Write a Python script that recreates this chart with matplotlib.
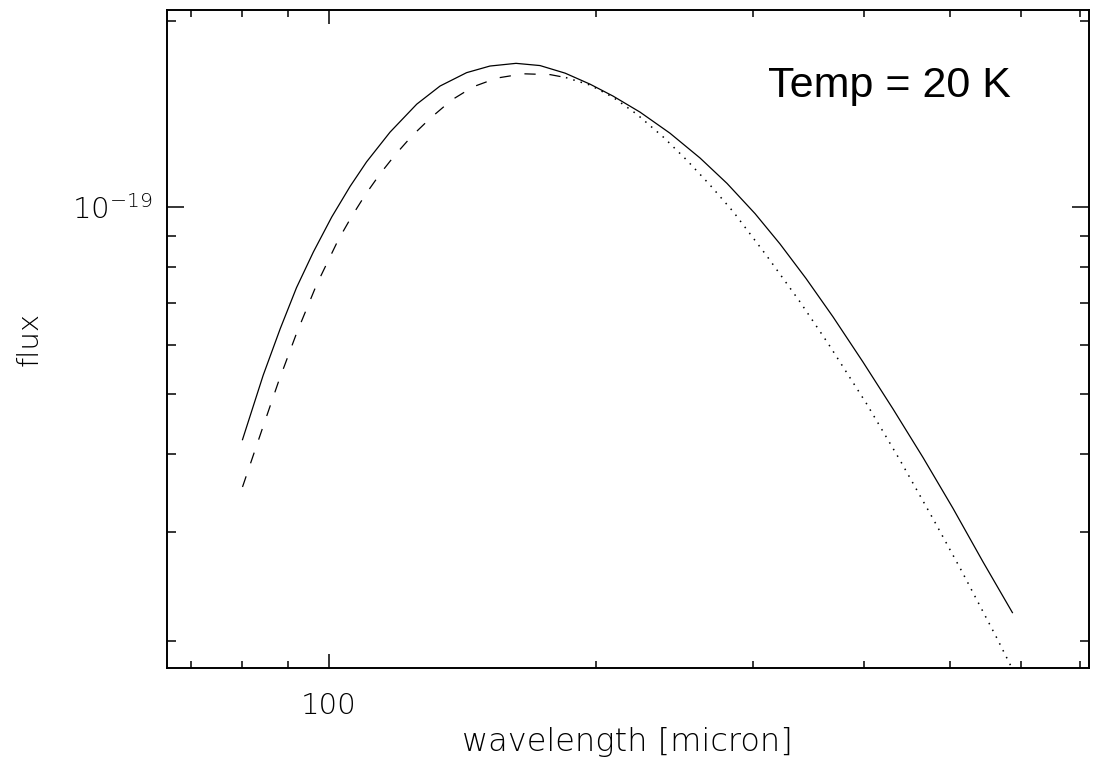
import matplotlib
matplotlib.use('Agg')
import matplotlib.pyplot as plt
from matplotlib.ticker import FixedLocator, FuncFormatter, NullFormatter

plt.rcParams['mathtext.fontset'] = 'custom'
plt.rcParams['mathtext.rm'] = 'DejaVu Sans:light'
plt.rcParams['mathtext.default'] = 'rm'

# ---- data ----
wave_solid = [80.0, 84.4, 88.2, 92.0, 96.1, 100.8, 105.7, 110.3, 117.2, 125.6,
              133.4, 142.9, 151.8, 162.4, 172.8, 184.4, 196.7, 208.7, 223.9, 241.9,
              261.5, 280.4, 301.5, 321.6, 344.0, 368.9, 398.7, 430.9, 465.7, 503.3,
              544.0, 587.0]
flux_solid = [4.22e-20, 5.36e-20, 6.37e-20, 7.42e-20, 8.47e-20, 9.65e-20, 1.081e-19,
              1.184e-19, 1.322e-19, 1.467e-19, 1.569e-19, 1.649e-19, 1.690e-19,
              1.707e-19, 1.693e-19, 1.646e-19, 1.580e-19, 1.512e-19, 1.424e-19,
              1.317e-19, 1.201e-19, 1.093e-19, 9.77e-20, 8.73e-20, 7.68e-20,
              6.66e-20, 5.63e-20, 4.73e-20, 3.95e-20, 3.27e-20, 2.68e-20, 2.22e-20]

wave_dashed = [80.0, 84.1, 87.8, 92.0, 96.9, 102.5, 106.1, 109.9, 114.2, 118.7,
               124.0, 130.0, 137.5, 145.4, 154.5, 165.5, 177.4, 184.8]
flux_dashed = [3.54e-20, 4.37e-20, 5.23e-20, 6.26e-20, 7.50e-20, 8.86e-20, 9.66e-20,
               1.047e-19, 1.132e-19, 1.214e-19, 1.303e-19, 1.391e-19, 1.490e-19,
               1.565e-19, 1.616e-19, 1.642e-19, 1.637e-19, 1.619e-19]

wave_dotted = [184.8, 196.7, 208.9, 221.9, 237.8, 252.6, 268.4, 285.1, 310.8,
               338.7, 364.6, 402.5, 438.8, 478.3, 514.8, 563.8, 587.0]
flux_dotted = [1.619e-19, 1.575e-19, 1.504e-19, 1.414e-19, 1.298e-19, 1.192e-19,
               1.086e-19, 9.83e-20, 8.35e-20, 7.04e-20, 6.02e-20, 4.82e-20,
               3.91e-20, 3.14e-20, 2.59e-20, 2.02e-20, 1.80e-20]

x_major = [100]
x_minor = [70, 80, 90, 200, 300, 400, 500, 600, 700]
y_major = [1e-19]
y_minor = [2e-20, 3e-20, 4e-20, 5e-20, 6e-20, 7e-20, 8e-20, 9e-20, 2e-19]

x_label = 'wavelength [micron]'
y_label = 'flux'
annotation = 'Temp = 20 K'

# ---- figure ----
fig = plt.figure(figsize=(10.99, 7.69), dpi=100)
ax = fig.add_axes([0.1517, 0.1309, 0.8392, 0.8561])

ax.plot(wave_solid, flux_solid, color='black', lw=0.9, ls='-')
ax.plot(wave_dashed, flux_dashed, color='black', lw=0.9, ls=(0, (9, 11)))
ax.plot(wave_dotted, flux_dotted, color='black', lw=1.1, ls=(0, (1, 4)))

ax.set_xscale('log')
ax.set_yscale('log')
ax.set_xlim(65.75, 715.7)
ax.set_ylim(1.805e-20, 2.081e-19)

ax.xaxis.set_major_locator(FixedLocator(x_major))
ax.xaxis.set_minor_locator(FixedLocator(x_minor))
ax.yaxis.set_major_locator(FixedLocator(y_major))
ax.yaxis.set_minor_locator(FixedLocator(y_minor))
ax.xaxis.set_major_formatter(FuncFormatter(lambda v, p: '%d' % round(v)))
ax.xaxis.set_minor_formatter(NullFormatter())
ax.yaxis.set_major_formatter(FuncFormatter(lambda v, p: '$10^{-19}$'))
ax.yaxis.set_minor_formatter(NullFormatter())

for sp in ax.spines.values():
    sp.set_linewidth(1.4)

ax.tick_params(axis='x', which='major', direction='in', length=10, width=1.1,
               top=True, labelsize=21, pad=17)
ax.tick_params(axis='x', which='minor', direction='in', length=5.3, width=1.1, top=True)
ax.tick_params(axis='y', which='major', direction='in', length=12.5, width=1.1,
               right=True, labelsize=21, pad=10)
ax.tick_params(axis='y', which='minor', direction='in', length=6.7, width=1.1, right=True)
for lab in ax.get_xticklabels() + ax.get_yticklabels():
    lab.set_fontweight('light')

ax.set_xlabel(x_label, fontsize=23, fontweight='light')
ax.set_ylabel(y_label, fontsize=21, fontweight='light')
ax.xaxis.set_label_coords(0.5, -0.112)
ax.xaxis.label.set_va('center')
ax.yaxis.set_label_coords(-0.149, 0.5)
ax.yaxis.label.set_va('center')

fig.text(768 / 1099, 1 - 97 / 769, annotation, fontsize=31,
         family='Liberation Sans', ha='left', va='baseline')

fig.savefig('out.png', dpi=100)
